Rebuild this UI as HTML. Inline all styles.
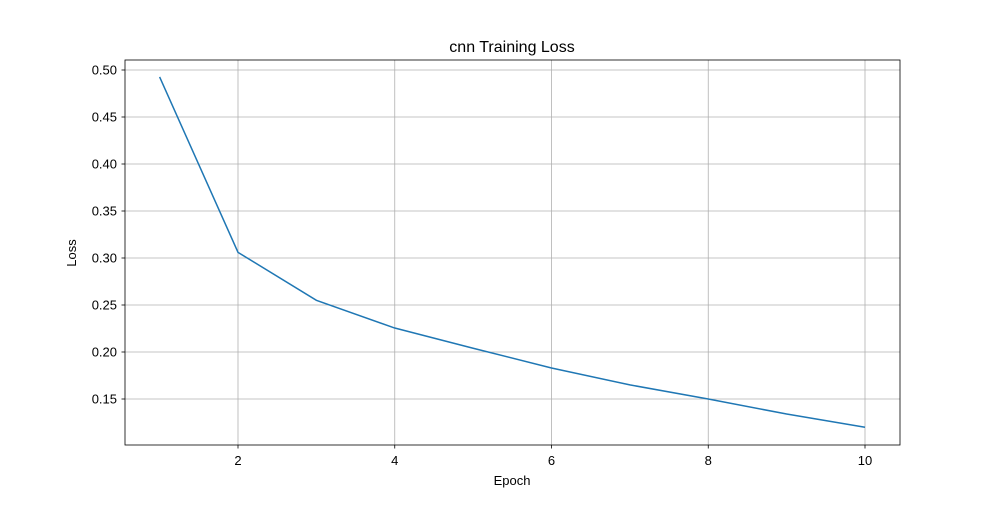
<!DOCTYPE html>
<html><head><meta charset="utf-8"><style>
body{margin:0;background:#fff;font-family:"Liberation Sans","DejaVu Sans",sans-serif;}
</style></head><body>
<svg id="chart" width="1000" height="500" xmlns="http://www.w3.org/2000/svg">
<rect width="1000" height="500" fill="#fff"/>
<g id="grid"></g>
<g id="ticks"></g>
<polyline id="line" fill="none" stroke="#1f77b4" stroke-width="1.5"/>
<rect x="125" y="60" width="775" height="385" fill="none" stroke="#000" stroke-width="0.8"/>
<text x="512" y="52" text-anchor="middle" font-size="16">cnn Training Loss</text>
<text x="512" y="485" text-anchor="middle" font-size="13">Epoch</text>
<text x="76" y="253" text-anchor="middle" font-size="13" transform="rotate(-90 76 253)">Loss</text>
</svg>
<script>
const epochs=[1,2,3,4,5,6,7,8,9,10];
const losses=[0.4926,0.306,0.255,0.2255,0.204,0.183,0.165,0.15,0.134,0.120];
const xTicks=[2,4,6,8,10];
const yTicks=[0.15,0.20,0.25,0.30,0.35,0.40,0.45,0.50];
const NS="http://www.w3.org/2000/svg";
function xs(e){return 238+(e-2)*78.375;}
function ys(v){return 70+(0.5-v)*940;}
const grid=document.getElementById('grid'),ticks=document.getElementById('ticks');
function mk(tag,attrs,parent){const el=document.createElementNS(NS,tag);for(const k in attrs)el.setAttribute(k,attrs[k]);parent.appendChild(el);return el;}
xTicks.forEach(t=>{const x=xs(t);
 const g=mk('line',{x1:x,x2:x,y1:60,y2:445,stroke:'#b0b0b0','stroke-width':0.8},grid);
 
 
 mk('line',{x1:x,x2:x,y1:445,y2:448.5,stroke:'#000','stroke-width':0.8},ticks);
 const l=mk('text',{x:x,y:465,'text-anchor':'middle','font-size':13},ticks);l.textContent=t;
 
 
});
yTicks.forEach(t=>{const y=ys(t);
 const g=mk('line',{x1:125,x2:900,y1:y,y2:y,stroke:'#b0b0b0','stroke-width':0.8},grid);
 
 
 mk('line',{x1:121.5,x2:125,y1:y,y2:y,stroke:'#000','stroke-width':0.8},ticks);
 const l=mk('text',{x:117,y:y+4.5,'text-anchor':'end','font-size':13},ticks);l.textContent=t.toFixed(2);
 
 
});
document.getElementById('line').setAttribute('points',epochs.map((e,i)=>xs(e)+','+ys(losses[i])).join(' '));
</script>
</body></html>
